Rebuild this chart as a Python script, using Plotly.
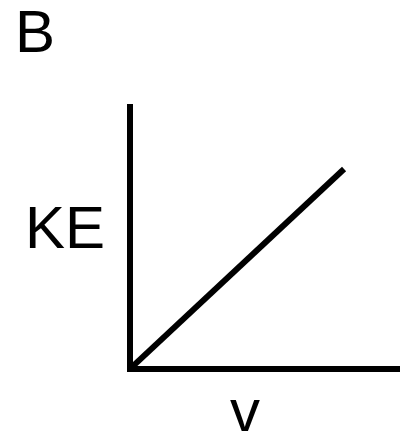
import plotly.graph_objects as go

# sketch: kinetic energy against velocity (straight line from origin)
velocity = [0, 1]
kinetic_energy = [0, 1]

panel_label = "B"
x_label = "v"
y_label = "KE"

# page body has an 8px margin, so the figure is laid out 8px smaller
OFF = 8
W, H = 408 - OFF, 434 - OFF
# plot area in window pixels
L, R, T, B = 133, 408, 104, 366
FONT = "Liberation Sans, Arial, sans-serif"
LW = 6


def px_to_paper(px, py):
    return (px - L) / (R - L), (B - py) / (B - T)


fig = go.Figure()
fig.add_trace(go.Scatter(x=velocity, y=kinetic_energy, mode="lines",
                         line=dict(color="black", width=LW),
                         cliponaxis=False,
                         hoverinfo="skip", showlegend=False))

annots = []
for txt, (cx, cy) in [(panel_label, (34.5, 31)), (y_label, (64.5, 227)), (x_label, (244.5, 410))]:
    ax_, ay_ = px_to_paper(cx, cy)
    annots.append(dict(text=txt, x=ax_, y=ay_, xref="paper", yref="paper",
                       xanchor="center", yanchor="middle", showarrow=False,
                       font=dict(family=FONT, size=60, color="black")))

fig.update_layout(
    width=W, height=H,
    margin=dict(l=L - OFF, r=408 - R, t=T - OFF, b=434 - B, pad=0),
    paper_bgcolor="white", plot_bgcolor="white",
    xaxis=dict(range=[0, 1.303], showline=True, linecolor="black", linewidth=LW,
               showgrid=False, zeroline=False, showticklabels=False, ticks=""),
    yaxis=dict(range=[0, 1.33], showline=True, linecolor="black", linewidth=LW,
               showgrid=False, zeroline=False, showticklabels=False, ticks=""),
    annotations=annots,
)

fig.write_html("out.html")
